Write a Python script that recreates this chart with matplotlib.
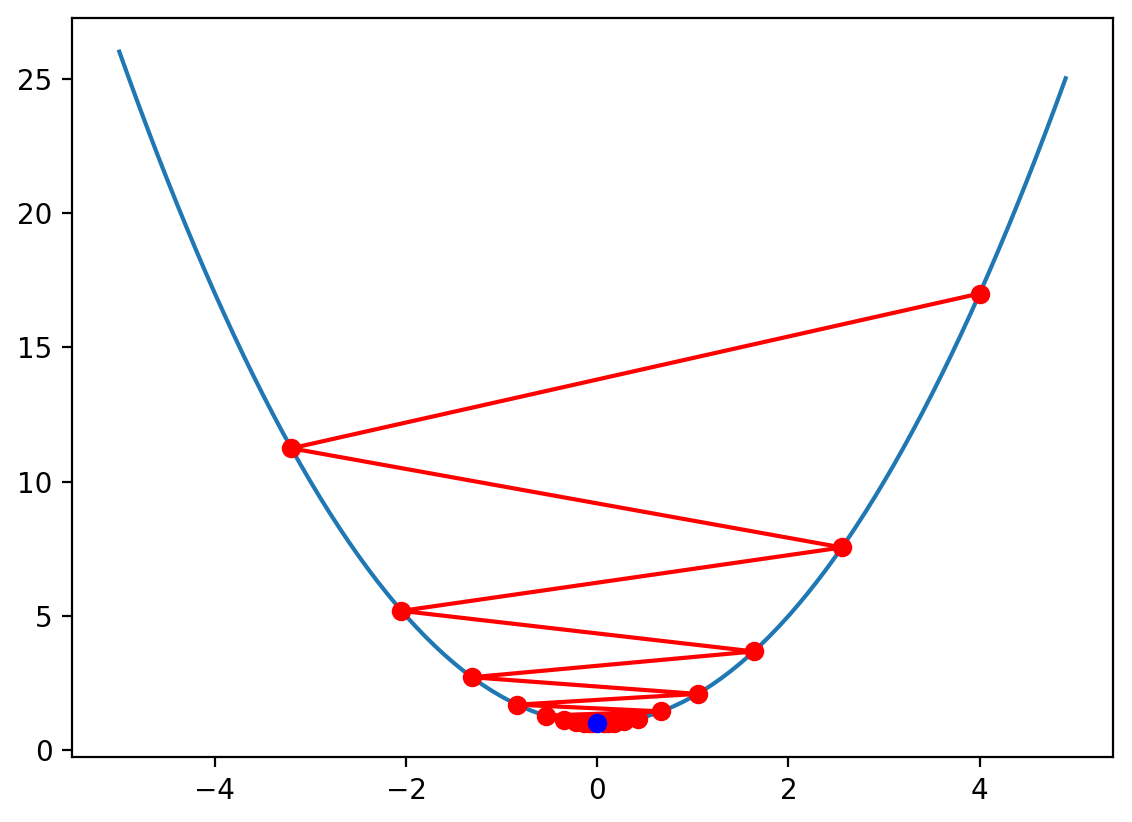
import numpy as np
import matplotlib
matplotlib.use('Agg')
import matplotlib.pyplot as plt

# gradient descent steps on f(x) = x^2 + 1
step_x = [4.0, -3.2, 2.56, -2.048, 1.638, -1.311, 1.049, -0.839, 0.671, -0.537,
          0.429, -0.344, 0.275, -0.220, 0.176, -0.141, 0.113, -0.090, 0.072, -0.058]
step_y = [17.0, 11.24, 7.55, 5.19, 3.68, 2.72, 2.10, 1.70, 1.45, 1.29,
          1.18, 1.12, 1.08, 1.05, 1.03, 1.02, 1.01, 1.01, 1.01, 1.00]
min_x = [0.0]
min_y = [1.0]

# the parabola itself
curve_x = np.arange(-5, 5, 0.1)
curve_y = curve_x ** 2 + 1

fig = plt.figure(figsize=(5.66, 4.11), dpi=200)
ax = fig.add_axes([0.0636, 0.079, 0.9196, 0.899])
ax.plot(curve_x, curve_y)
ax.plot(step_x, step_y, 'r-')
ax.plot(step_x, step_y, 'ro')
ax.plot(min_x, min_y, 'bo')

fig.savefig('out.png', dpi=200)
